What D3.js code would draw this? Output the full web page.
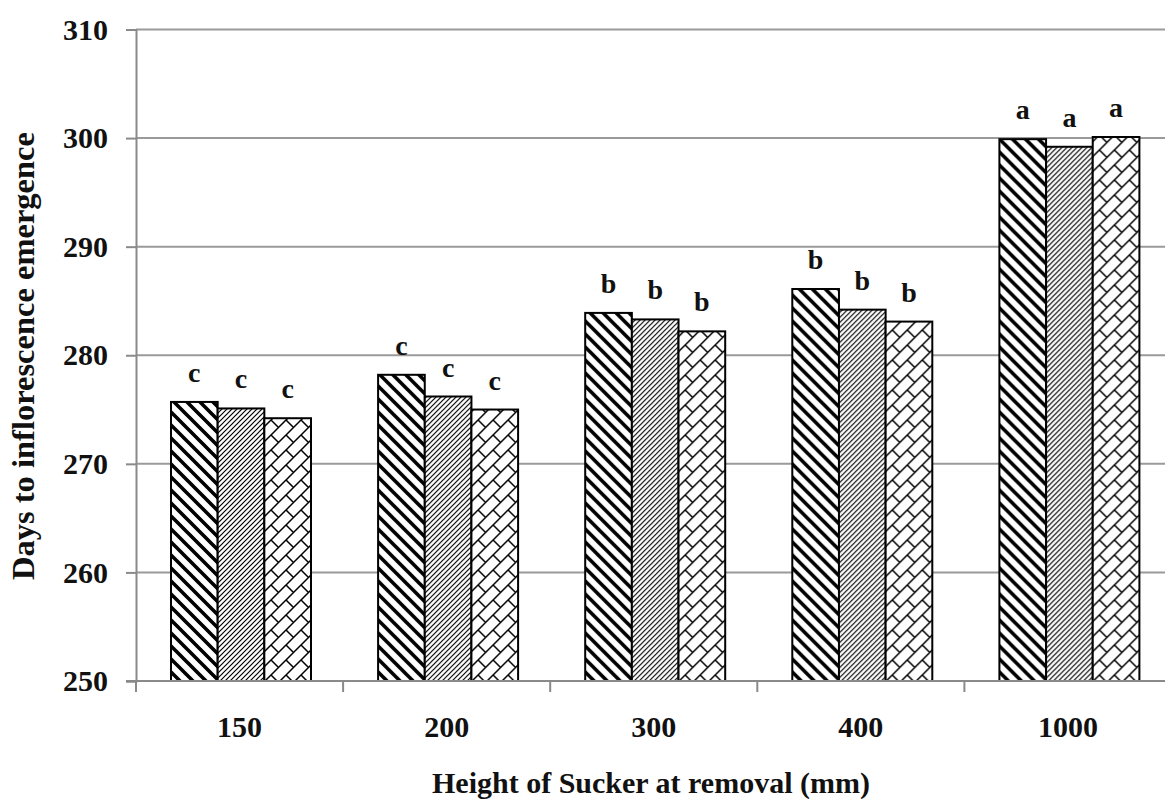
<!DOCTYPE html>
<html>
<head>
<meta charset="utf-8">
<script src="https://cdn.jsdelivr.net/npm/d3@7"></script>
<style>
  html, body { margin: 0; padding: 0; background: #fff; }
  svg { display: block; }
  text { font-family: "Liberation Serif", "Times New Roman", serif; font-weight: bold; fill: #111; }
</style>
</head>
<body>
<svg id="chart" width="1165" height="799"></svg>
<script>
// Sucker height categories (mm)
const categories = ["150", "200", "300", "400", "1000"];
// Days to inflorescence emergence, three treatments per height
const seriesA = [275.7, 278.2, 283.9, 286.1, 299.9];
const seriesB = [275.1, 276.2, 283.3, 284.2, 299.2];
const seriesC = [274.2, 275.0, 282.2, 283.1, 300.1];
// Mean separation letters
const lettersA = ["c", "c", "b", "b", "a"];
const lettersB = ["c", "c", "b", "b", "a"];
const lettersC = ["c", "c", "b", "b", "a"];
const yTicks = [250, 260, 270, 280, 290, 300, 310];

const series = [
  { key: "A", values: seriesA, letters: lettersA, fill: "url(#patA)" },
  { key: "B", values: seriesB, letters: lettersB, fill: "url(#patB)" },
  { key: "C", values: seriesC, letters: lettersC, fill: "url(#patC)" }
];

const svg = d3.select("#chart");
const plotLeft = 136, plotRight = 1171.5, plotTop = 29.5, plotBottom = 681;

const x = d3.scaleBand().domain(categories).range([plotLeft, plotRight]).padding(0);
const xs = d3.scaleBand().domain(series.map(s => s.key)).range([35, 175]).padding(0);
const y = d3.scaleLinear().domain([250, 310]).range([plotBottom, plotTop]);

// Fill patterns
const defs = svg.append("defs");
const pA = defs.append("pattern").attr("id", "patA").attr("patternUnits", "userSpaceOnUse")
  .attr("width", 13).attr("height", 13);
pA.append("rect").attr("width", 13).attr("height", 13).attr("fill", "#fff");
pA.append("path").attr("d", "M-2,-2L15,15M-8,5L8,21M5,-8L21,8")
  .attr("stroke", "#000").attr("stroke-width", 3.6);

const pB = defs.append("pattern").attr("id", "patB").attr("patternUnits", "userSpaceOnUse")
  .attr("width", 5).attr("height", 5);
pB.append("rect").attr("width", 5).attr("height", 5).attr("fill", "#fff");
pB.append("path").attr("d", "M-1,6L6,-1M-3.5,3.5L3.5,-3.5M1.5,8.5L8.5,1.5")
  .attr("stroke", "#000").attr("stroke-width", 1.2);

// Diagonal brick: long "/" strokes joined by short "\" segments
const ts = 15;
const pC = defs.append("pattern").attr("id", "patC").attr("patternUnits", "userSpaceOnUse")
  .attr("width", ts).attr("height", ts);
pC.append("rect").attr("width", ts).attr("height", ts).attr("fill", "#fff");
pC.append("path")
  .attr("d", `M-2,${ts + 2}L${ts + 2},-2M${ts - 2},${ts + 2}L${ts + 2},${ts - 2}M-2,2L2,-2M0,0L${ts / 2},${ts / 2}`)
  .attr("stroke", "#000").attr("stroke-width", 1.5).attr("fill", "none");

// Gridlines
svg.append("g").selectAll("line").data(yTicks).join("line")
  .attr("x1", plotLeft).attr("x2", 1165)
  .attr("y1", d => y(d)).attr("y2", d => y(d))
  .attr("stroke", "#9a9a9a").attr("stroke-width", 2);

// Bars
const groups = svg.append("g").selectAll("g").data(categories).join("g")
  .attr("transform", d => `translate(${x(d)},0)`);

groups.each(function (cat, i) {
  const g = d3.select(this);
  series.forEach(sr => {
    const v = sr.values[i];
    g.append("rect")
      .attr("x", xs(sr.key))
      .attr("y", y(v))
      .attr("width", xs.bandwidth())
      .attr("height", y(250) - y(v))
      .attr("fill", sr.fill)
      .attr("stroke", "#000").attr("stroke-width", 2);
    g.append("text")
      .attr("x", xs(sr.key) + xs.bandwidth() / 2)
      .attr("y", y(v) - 20)
      .attr("text-anchor", "middle")
      .attr("font-size", 28)
      .text(sr.letters[i]);
  });
});

// Y axis
const yAxis = svg.append("g").attr("transform", `translate(${plotLeft},0)`)
  .call(d3.axisLeft(y).tickValues(yTicks).tickSize(10).tickPadding(18).tickFormat(d3.format("d")));
yAxis.select(".domain").attr("stroke", "#8a8a8a").attr("stroke-width", 2);
yAxis.selectAll(".tick line").attr("stroke", "#8a8a8a").attr("stroke-width", 2);
yAxis.selectAll(".tick text").attr("font-size", 30).attr("font-family", "Liberation Serif").attr("font-weight", "bold").attr("fill", "#111");

// X axis
const xAxis = svg.append("g").attr("transform", `translate(0,${plotBottom})`)
  .call(d3.axisBottom(x).tickSize(0).tickPadding(35));
xAxis.select(".domain").remove();
xAxis.append("line").attr("x1", plotLeft - 10).attr("x2", 1165).attr("stroke", "#8a8a8a").attr("stroke-width", 2);
xAxis.selectAll(".tick text").attr("font-size", 30).attr("font-family", "Liberation Serif").attr("font-weight", "bold").attr("fill", "#111");
// Category boundary ticks
xAxis.append("g").selectAll("line").data(categories).join("line")
  .attr("x1", d => x(d)).attr("x2", d => x(d))
  .attr("y1", 0).attr("y2", 11)
  .attr("stroke", "#8a8a8a").attr("stroke-width", 2);

// Axis titles
svg.append("text")
  .attr("x", 651).attr("y", 793)
  .attr("text-anchor", "middle").attr("font-size", 30)
  .text("Height of Sucker at removal (mm)");

svg.append("text")
  .attr("transform", "translate(34,356) rotate(-90)")
  .attr("text-anchor", "middle").attr("font-size", 32.5)
  .text("Days to inflorescence emergence");
</script>
</body>
</html>
